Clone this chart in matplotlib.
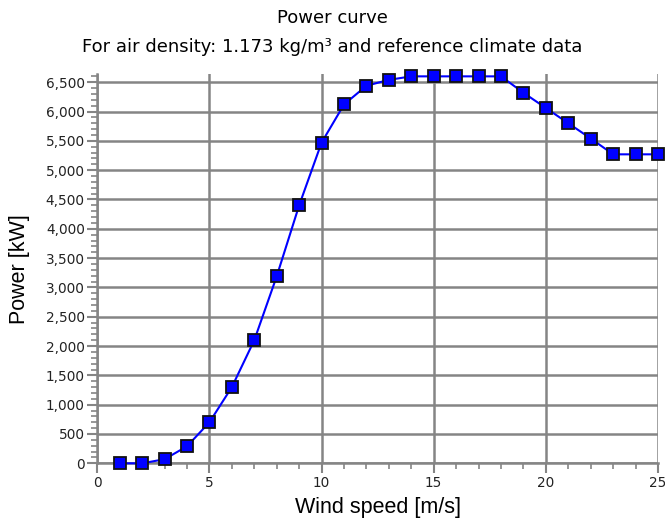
import matplotlib.pyplot as plt
from matplotlib.ticker import MultipleLocator, FuncFormatter

# wind speed [m/s] and power [kW]
wind_speed = [1, 2, 3, 4, 5, 6, 7, 8, 9, 10, 11, 12, 13,
              14, 15, 16, 17, 18, 19, 20, 21, 22, 23, 24, 25]
power_kw = [0, 0, 70, 290, 700, 1300, 2100, 3190, 4400, 5470, 6120, 6440, 6540,
            6600, 6600, 6600, 6600, 6600, 6320, 6060, 5800, 5540, 5270, 5270, 5270]

title_lines = ["Power curve",
               "For air density: 1.173 kg/m³ and reference climate data"]

grid_col = "#858585"

fig = plt.figure(figsize=(6.65, 5.19), dpi=100)
ax = fig.add_axes([0.1463, 0.1073, 0.8432, 0.7501])

ax.plot(wind_speed, power_kw, color="#0000ff", lw=1.5, marker="s",
        markersize=8.5, markerfacecolor="#0000ff", markeredgecolor="#111111",
        markeredgewidth=1.3, clip_on=False, zorder=3)

ax.set_xlim(0, 25)
ax.set_ylim(0, 6640)
ax.xaxis.set_major_locator(MultipleLocator(5))
ax.xaxis.set_minor_locator(MultipleLocator(1))
ax.yaxis.set_major_locator(MultipleLocator(500))
ax.yaxis.set_minor_locator(MultipleLocator(100))
ax.yaxis.set_major_formatter(FuncFormatter(lambda v, p: f"{int(v):,}"))

ax.grid(True, which="major", color=grid_col, lw=1.8)
ax.set_axisbelow(True)
for side in ["top", "right"]:
    ax.spines[side].set_visible(False)
for side in ["left", "bottom"]:
    ax.spines[side].set_color(grid_col)
    ax.spines[side].set_linewidth(1.8)

ax.tick_params(which="major", direction="out", length=7, width=1.5,
               color=grid_col, labelsize=9.8, labelcolor="#222222", pad=2)
ax.tick_params(which="minor", direction="out", length=4, width=1.2,
               color=grid_col)

ax.set_xlabel("Wind speed [m/s]", fontsize=15.5, family="Liberation Sans", labelpad=5)
ax.set_ylabel("Power [kW]", fontsize=15.5, family="Liberation Sans", labelpad=11)

fig.text(0.5, 0.965, title_lines[0], ha="center", va="center", fontsize=13)
fig.text(0.5, 0.909, title_lines[1], ha="center", va="center", fontsize=13)

fig.savefig("out.png", dpi=100)
